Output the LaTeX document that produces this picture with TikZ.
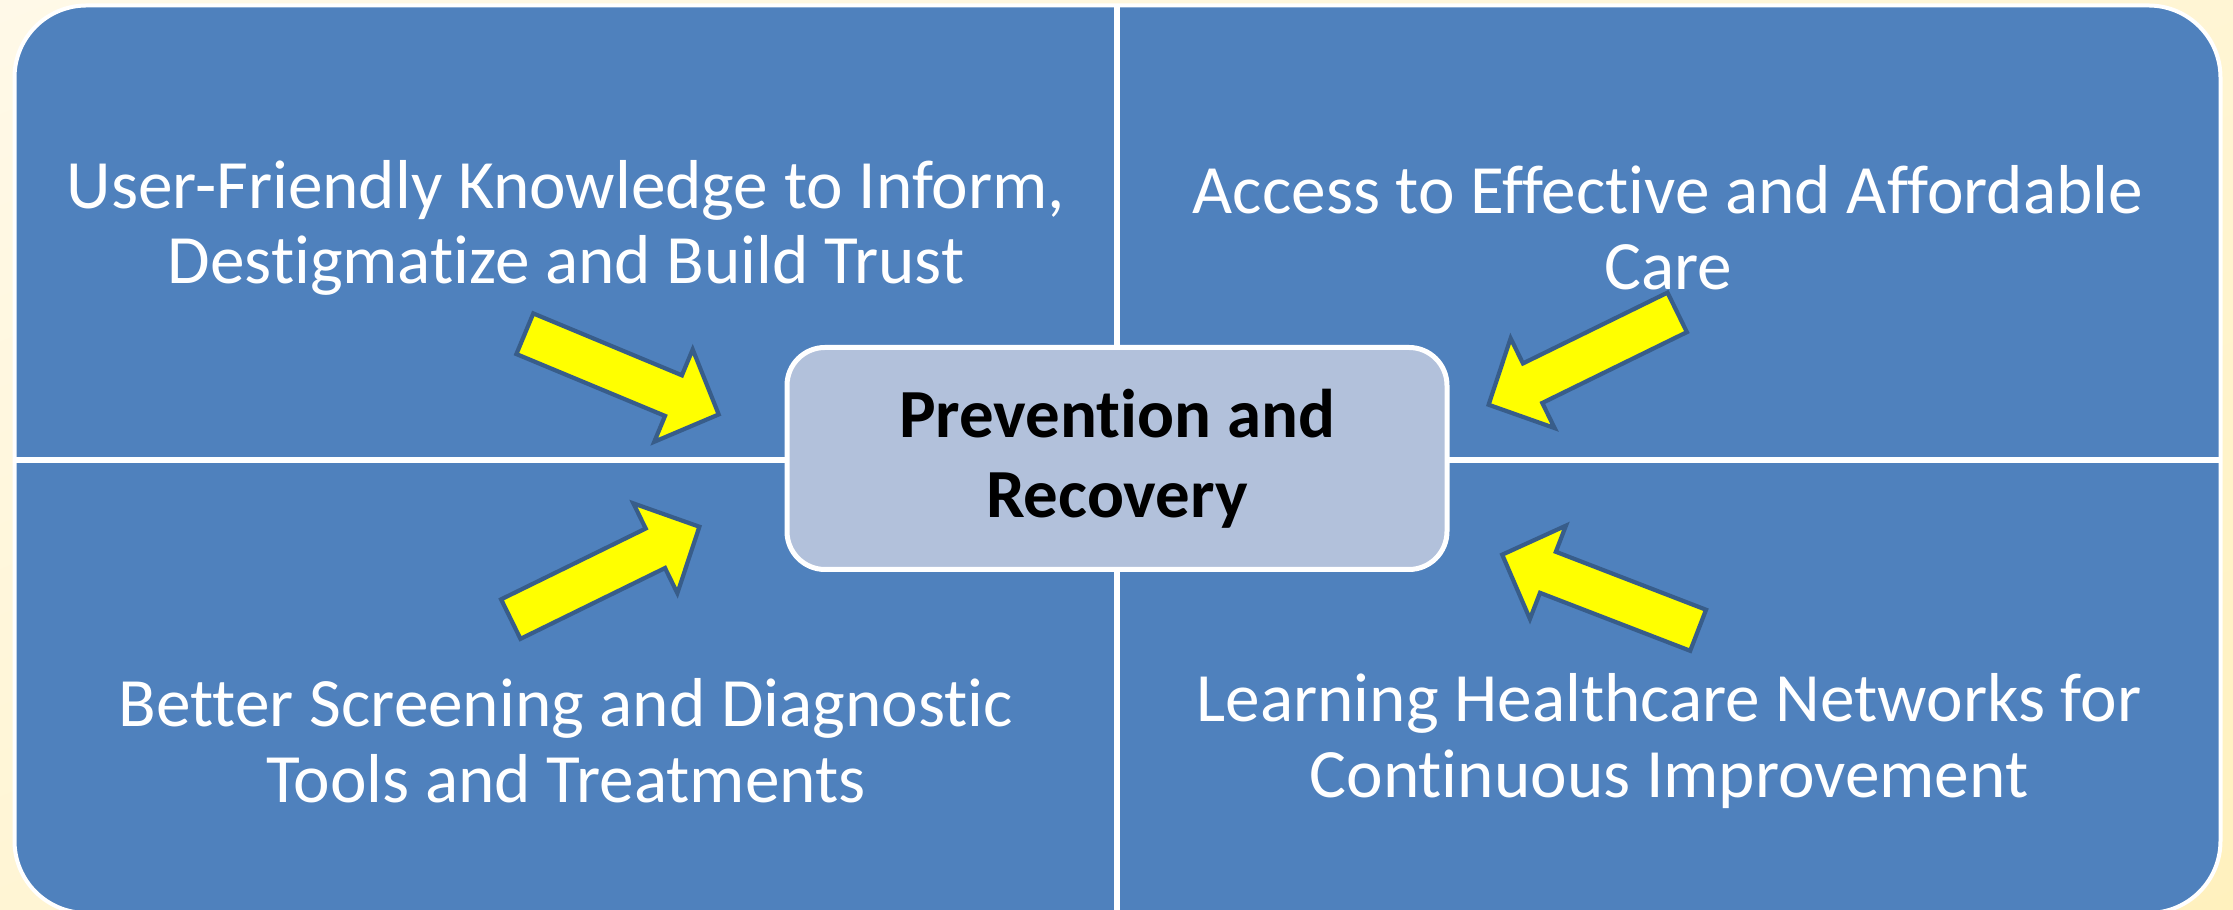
\documentclass[tikz,border=0pt]{standalone}
\usepackage{fontspec}
\setmainfont{Carlito}[Ligatures={NoCommon}]
\usepackage{xcolor}
\usetikzlibrary{shadings}
\definecolor{bleu}{HTML}{4F81BD}
\definecolor{bleupale}{HTML}{B2C1DB}
\definecolor{contour}{HTML}{385D8A}
\definecolor{jaune}{HTML}{FFFF00}
\definecolor{cremeclair}{HTML}{FFF9E8}
\definecolor{creme}{HTML}{FFF5D4}
\definecolor{cremefonce}{HTML}{FFF1BE}
\tikzset{
  panneau/.style={fill=bleu, draw=white, line width=0.04cm, rounded corners=0.72cm},
  separation/.style={draw=white, line width=0.06cm},
  texte/.style={text=white, align=center, font=\fontsize{19.7}{21.5}\selectfont},
  centre/.style={rectangle, rounded corners=0.38cm, draw=white, line width=0.05cm,
    fill=bleupale, text=black, align=center, minimum width=6.6cm, minimum height=2.22cm,
    font=\bfseries\fontsize{19.6}{22.7}\selectfont},
  flechebloc/.style={fill=jaune, draw=contour, line width=0.042cm, line join=miter},
}
\begin{document}
\begin{tikzpicture}
    \useasboundingbox (0,0) rectangle (22.33,9.10);
    % Fond
    \shade[upper left=cremeclair, upper right=creme, lower left=creme, lower right=cremefonce]
      (0,0) rectangle (22.33,9.10);
    % Panneaux
    \draw[panneau] (0.145,-0.03) rectangle (22.205,9.045);
    \draw[separation] (11.17,9.045) -- (11.17,-0.03);
    \draw[separation] (0.145,4.50) -- (22.205,4.50);
    % Textes des quadrants
    \node[texte] (savoir) at (5.66,6.82) {User-Friendly Knowledge to Inform,\\ Destigmatize and Build Trust};
    \node[texte] (acces) at (16.68,6.82) {Access to Effective and Affordable\\ Care};
    \node[texte] (outils) at (5.66,1.69) {Better Screening and Diagnostic\\ Tools and Treatments};
    \node[texte] (reseaux) at (16.69,1.69) {Learning Healthcare Networks for\\ Continuous Improvement};
    % Centre
    \node[centre] (prevention) at (11.17,4.515) {Prevention and\\ Recovery};
    % Fleches vers le centre
    \foreach \x/\y/\a in {5.23/5.77/-22.6, 16.79/5.985/-153.9, 5.09/2.90/26.1, 17.00/2.79/158.9} {
      \draw[flechebloc, shift={(\x,\y)}, rotate=\a]
        (0.02,0.22) -- (1.63,0.22) -- (1.63,0.50) -- (2.12,0) -- (1.63,-0.50) -- (1.63,-0.22) -- (0.02,-0.22) -- cycle;
    }
\end{tikzpicture}
\end{document}
